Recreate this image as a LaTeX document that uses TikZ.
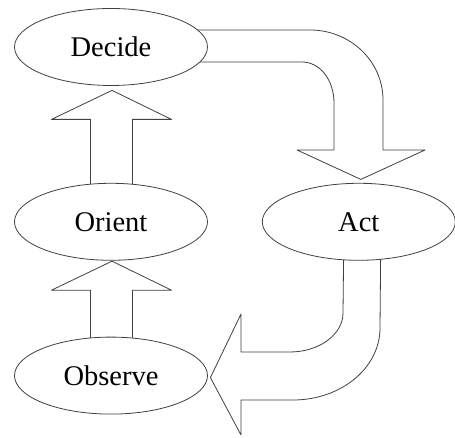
\documentclass[tikz,border=0pt]{standalone}
\usepackage{fontspec}
\setmainfont{Liberation Serif}
\usetikzlibrary{positioning, calc, shapes.geometric}
\pgfdeclarelayer{background}
\pgfsetlayers{background,main}
\tikzset {
  stage/.style = {draw=black!75, line width=0.8pt, ellipse, fill=white, minimum width=193pt, minimum height=77pt, inner sep=0pt, font=\fontsize{28.5}{30}\selectfont},
  blockarrow/.style = {draw=black!75, fill=white, line width=0.8pt, line join=round}
}
% straight block arrow from the top of #1 up to the bottom of #2, tip #3 short of it
\newcommand{\upblock}[3]{%
  \draw[blockarrow] ($(#1.north)+(-20.5,-15)$) -- ($(#2.south)+(-20.5,-29-#3)$)
    -- ($(#2.south)+(-59.5,-29-#3)$) -- ($(#2.south)+(1,-#3)$)
    -- ($(#2.south)+(60.5,-29-#3)$) -- ($(#2.south)+(21.5,-29-#3)$)
    -- ($(#1.north)+(21.5,-15)$) -- cycle;}

\begin{document}
\begin{tikzpicture}[x=1pt, y=1pt]
    \useasboundingbox (0,0) rectangle (455,438);

    \node[stage] (decide) at (111,391) {Decide};
    \node[stage, below=97pt of decide] (orient) {Orient};
    \node[stage, right=54pt of orient] (act) {Act};
    \node[stage, below=76pt of orient] (observe) {Observe};

    \begin{pgfonlayer}{background}
    \upblock{orient}{decide}{4.5}
    \upblock{observe}{orient}{0.5}

    % decide -> act
    \draw[blockarrow] ($(decide.center)+(39,17)$) -- (310,408)
      .. controls (350,408) and (383,377) .. (383,338) -- (383,288)
      -- (425,288) -- ($(act.north)+(2,3.5)$) -- (297,288) -- (334,288) -- (334,335)
      .. controls (334,358) and (320,376) .. (302,376)
      -- ($(decide.center)+(39,-15)$) -- cycle;

    % act -> observe
    \draw[blockarrow] ($(act.center)+(-15,-17)$) -- (343,125)
      .. controls (343,103.5) and (319,86) .. (290,86) -- (241,86) -- (241,124)
      -- ($(observe.east)+(2.5,-2)$) -- (241,3) -- (241,38) -- (293,38)
      .. controls (341,38) and (380,70) .. (380,110)
      -- ($(act.center)+(22,-17)$) -- cycle;
    \end{pgfonlayer}

\end{tikzpicture}
\end{document}
